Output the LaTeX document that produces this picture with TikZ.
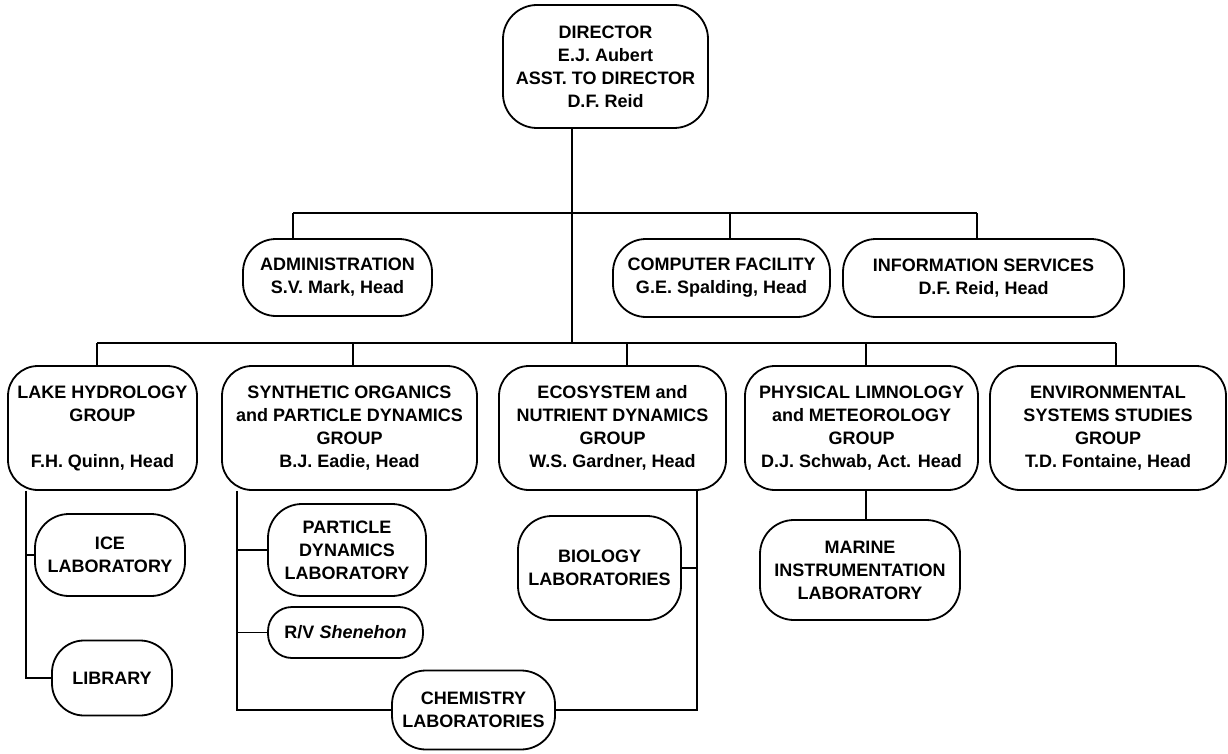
\documentclass[tikz,border=0pt]{standalone}
\usepackage{fontspec}
\setmainfont{Liberation Sans}
\begin{document}
\tikzset{
  box/.style={draw, line width=1.8pt, rounded corners=30pt, align=center, inner sep=0pt,
              font=\fontsize{18}{23}\selectfont\bfseries},
  conn/.style={line width=1.8pt},
}
\begin{tikzpicture}[x=1pt,y=-1pt]
\useasboundingbox (0,0) rectangle (1228,754);
% top
\node[box, minimum width=205pt, minimum height=123pt, rounded corners=34pt] (dir) at (605.5,66.5)
  {DIRECTOR\\E.J. Aubert\\ASST. TO DIRECTOR\\D.F. Reid};
% staff offices
\node[box, minimum width=189pt, minimum height=77pt, rounded corners=33pt] (admin) at (337.5,277.5)
  {ADMINISTRATION\\S.V. Mark, Head};
\node[box, minimum width=217pt, minimum height=78pt, rounded corners=33pt] (comp) at (721.5,278)
  {COMPUTER FACILITY\\G.E. Spalding, Head};
\node[box, minimum width=281pt, minimum height=78pt, rounded corners=33pt] (info) at (983.5,278)
  {INFORMATION SERVICES\\D.F. Reid, Head};
% groups
\node[box, minimum width=189pt, minimum height=124pt] (lake) at (102.5,428)
  {LAKE HYDROLOGY\\GROUP\\[23pt]F.H. Quinn, Head};
\node[box, minimum width=255pt, minimum height=124pt] (synth) at (349.5,428)
  {SYNTHETIC ORGANICS\\and PARTICLE DYNAMICS\\GROUP\\B.J. Eadie, Head};
\node[box, minimum width=227pt, minimum height=124pt] (eco) at (612.5,428)
  {ECOSYSTEM and\\NUTRIENT DYNAMICS\\GROUP\\W.S. Gardner, Head};
\node[box, minimum width=233pt, minimum height=124pt] (phys) at (861.5,428)
  {PHYSICAL LIMNOLOGY\\and METEOROLOGY\\GROUP\\D.J. Schwab, Act. Head};
\node[box, minimum width=236pt, minimum height=124pt] (env) at (1108,428)
  {ENVIRONMENTAL\\SYSTEMS STUDIES\\GROUP\\T.D. Fontaine, Head};
% laboratories
\node[box, minimum width=150pt, minimum height=82pt, rounded corners=34pt] (ice) at (110,555)
  {ICE\\LABORATORY};
\node[box, minimum width=120pt, minimum height=75pt, rounded corners=32pt] (lib) at (112,678)
  {LIBRARY};
\node[box, minimum width=158pt, minimum height=92pt, rounded corners=34pt] (pd) at (347,550)
  {PARTICLE\\DYNAMICS\\LABORATORY};
\node[box, minimum width=155pt, minimum height=51pt, rounded corners=24pt] (rv) at (345.5,632.5)
  {R/V \textit{Shenehon}};
\node[box, minimum width=163pt, minimum height=104pt, rounded corners=34pt] (bio) at (599.5,568)
  {BIOLOGY\\LABORATORIES};
\node[box, minimum width=200pt, minimum height=100pt, rounded corners=34pt] (marine) at (860,570)
  {MARINE\\INSTRUMENTATION\\LABORATORY};
\node[box, minimum width=163pt, minimum height=79pt, rounded corners=34pt] (chem) at (473.5,710)
  {CHEMISTRY\\LABORATORIES};
% bus coordinates
\coordinate (trunk) at (572,213);
\coordinate (lbC) at (572,343);
\coordinate (ubL) at (293,213);
\coordinate (ubC) at (730,213);
\coordinate (ubR) at (977,213);
\coordinate (lbL) at (97,343);
\coordinate (lbS) at (353,343);
\coordinate (lbE) at (627,343);
\coordinate (lbP) at (866,343);
\coordinate (lbR) at (1116,343);
\coordinate (lakeline) at (26,0);
\coordinate (synline) at (237,0);
\coordinate (ecoline) at (697,0);
% connectors
\draw[conn] (dir.south -| trunk) -- (lbC);
\draw[conn] (ubL) -- (ubR);
\draw[conn] (ubL) -- (admin.north -| ubL);
\draw[conn] (ubC) -- (comp.north -| ubC);
\draw[conn] (ubR) -- (info.north -| ubR);
\draw[conn] (lbL) -- (lbR);
\draw[conn] (lbL) -- (lake.north -| lbL);
\draw[conn] (lbS) -- (synth.north -| lbS);
\draw[conn] (lbE) -- (eco.north -| lbE);
\draw[conn] (lbP) -- (phys.north -| lbP);
\draw[conn] (lbR) -- (env.north -| lbR);
\draw[conn] (lake.south -| lakeline) |- (lib.west);
\draw[conn] (lakeline |- ice.west) -- (ice.west);
\draw[conn] (synth.south -| synline) |- (chem.west);
\draw[conn] (synline |- pd.west) -- (pd.west);
\draw[conn] (synline |- rv.west) -- (rv.west);
\draw[conn] (eco.south -| ecoline) |- (chem.east);
\draw[conn] (ecoline |- bio.east) -- (bio.east);
\draw[conn] (phys.south -| lbP) -- (marine.north -| lbP);
\end{tikzpicture}
\end{document}
